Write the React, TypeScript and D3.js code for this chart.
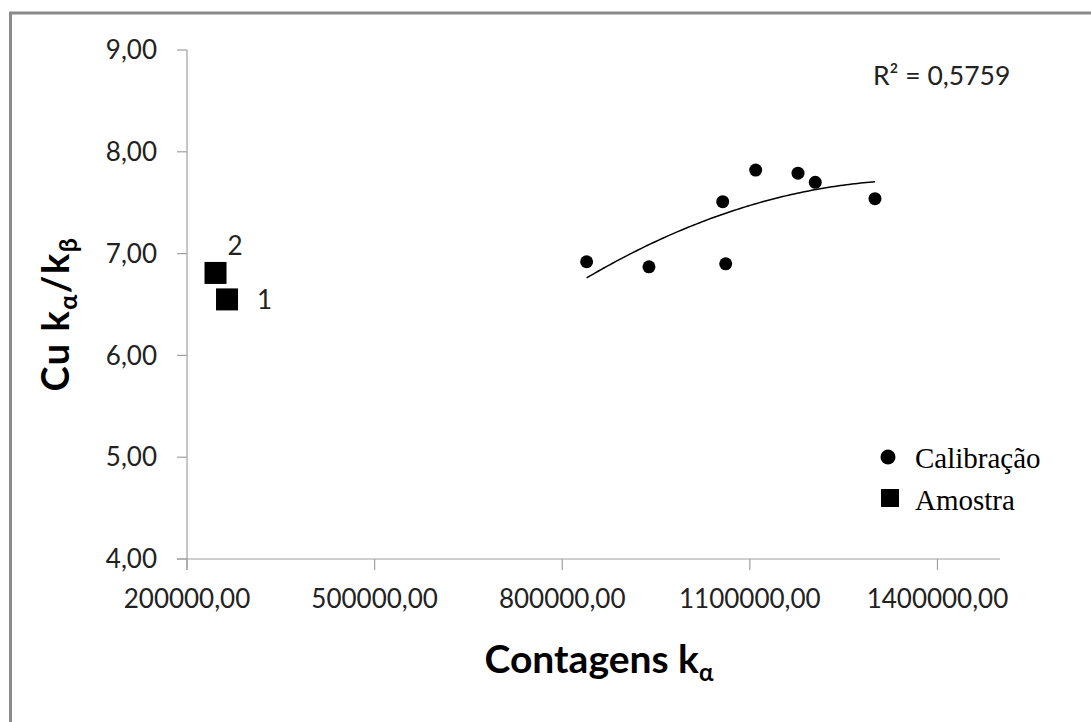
import React, { useMemo } from "react";
import * as d3 from "d3";

const calibX = [839000, 938700, 1061400, 1056600, 1109300, 1177000, 1204600, 1300100];
const calibY = [6.92, 6.87, 6.9, 7.51, 7.82, 7.79, 7.7, 7.54];
const sampleX = [264000, 245600];
const sampleY = [6.55, 6.81];
const sampleLabels = ["1", "2"];
const xTicks = [200000, 500000, 800000, 1100000, 1400000];
const yTicks = [4, 5, 6, 7, 8, 9];
const rSquaredText = "R² = 0,5759";
const legendLabels = ["Calibração", "Amostra"];

const W = 1091;
const H = 722;
const fmt = (v: number) => v.toFixed(2).replace(".", ",");

function quadFit(xs: number[], ys: number[]) {
  const n = xs.length;
  const m = d3.mean(xs) as number;
  const s = 100000;
  const t = xs.map((x) => (x - m) / s);
  let S0 = n, S1 = 0, S2 = 0, S3 = 0, S4 = 0, T0 = 0, T1 = 0, T2 = 0;
  for (let i = 0; i < n; i++) {
    const ti = t[i], yi = ys[i];
    S1 += ti; S2 += ti * ti; S3 += ti ** 3; S4 += ti ** 4;
    T0 += yi; T1 += ti * yi; T2 += ti * ti * yi;
  }
  const M = [
    [S0, S1, S2, T0],
    [S1, S2, S3, T1],
    [S2, S3, S4, T2],
  ];
  for (let i = 0; i < 3; i++) {
    let p = i;
    for (let r = i + 1; r < 3; r++) if (Math.abs(M[r][i]) > Math.abs(M[p][i])) p = r;
    [M[i], M[p]] = [M[p], M[i]];
    for (let r = 0; r < 3; r++) {
      if (r === i) continue;
      const f = M[r][i] / M[i][i];
      for (let c = i; c < 4; c++) M[r][c] -= f * M[i][c];
    }
  }
  const a = M[0][3] / M[0][0], b = M[1][3] / M[1][1], c = M[2][3] / M[2][2];
  return (x: number) => {
    const tt = (x - m) / s;
    return a + b * tt + c * tt * tt;
  };
}

export default function App() {
  const x = d3.scaleLinear().domain([200000, 1500000]).range([187, 1000]);
  const y = d3.scaleLinear().domain([4, 9]).range([559, 50]);

  const trend = useMemo(() => {
    const f = quadFit(calibX, calibY);
    const x0 = d3.min(calibX) as number;
    const x1 = d3.max(calibX) as number;
    const pts = d3.range(0, 101).map((i) => {
      const xv = x0 + ((x1 - x0) * i) / 100;
      return [xv, f(xv)] as [number, number];
    });
    return d3.line<[number, number]>().x((d) => x(d[0])).y((d) => y(d[1]))(pts) || "";
  }, []);

  const axisColor = "#a0a0a0";
  const tickFont = "Lato, 'Open Sans', sans-serif";
  const serif = "'Liberation Serif', 'Times New Roman', serif";
  const sq = 22;

  return (
    <svg
      width={W}
      height={H}
      style={{ position: "absolute", left: 0, top: 0, background: "#fff" }}
    >
      <rect x={0} y={0} width={W} height={H} fill="#fff" />
      {/* frame */}
      <line x1={9} y1={13} x2={W} y2={13} stroke="#8a8a8a" strokeWidth={3} />
      <line x1={10.5} y1={12} x2={10.5} y2={H} stroke="#8a8a8a" strokeWidth={3} />

      {/* axes */}
      <line x1={x(200000)} y1={y(9)} x2={x(200000)} y2={y(4) + 11} stroke={axisColor} strokeWidth={1.2} />
      <line x1={x(200000) - 10} y1={y(4)} x2={x(1500000)} y2={y(4)} stroke={axisColor} strokeWidth={1.2} />
      {yTicks.map((t) => (
        <g key={"y" + t}>
          <line x1={x(200000) - 10} x2={x(200000)} y1={y(t)} y2={y(t)} stroke={axisColor} strokeWidth={1.2} />
          <text x={157} y={y(t)} dy="0.35em" textAnchor="end" fontFamily={tickFont} fontSize={26} fill="#222">
            {fmt(t)}
          </text>
        </g>
      ))}
      {xTicks.map((t) => (
        <g key={"x" + t}>
          <line x1={x(t)} x2={x(t)} y1={y(4)} y2={y(4) + 11} stroke={axisColor} strokeWidth={1.2} />
          <text x={x(t)} y={608} textAnchor="middle" fontFamily={tickFont} fontSize={26} fill="#222">
            {fmt(t)}
          </text>
        </g>
      ))}

      {/* axis titles */}
      <text x={599} y={673} textAnchor="middle" fontFamily={tickFont} fontWeight="bold" fontSize={39} fill="#000">
        Contagens k
        <tspan fontSize={24} dy={8}>α</tspan>
      </text>
      <text
        transform="translate(69,314) rotate(-90)"
        textAnchor="middle"
        fontFamily={tickFont}
        fontWeight="bold"
        fontSize={38}
        letterSpacing={1.5}
        fill="#000"
      >
        Cu k
        <tspan fontSize={25} dy={8}>α</tspan>
        <tspan dy={-8}>/k</tspan>
        <tspan fontSize={25} dy={8}>β</tspan>
      </text>

      {/* trendline */}
      <path d={trend} fill="none" stroke="#000" strokeWidth={1.5} />

      {/* calibration points */}
      {calibX.map((cx, i) => (
        <circle key={"c" + i} cx={x(cx)} cy={y(calibY[i])} r={6.5} fill="#000" />
      ))}

      {/* sample points */}
      {sampleX.map((sx, i) => (
        <rect key={"s" + i} x={x(sx) - sq / 2} y={y(sampleY[i]) - sq / 2} width={sq} height={sq} fill="#000" />
      ))}
      <text x={x(sampleX[0]) + 30} y={y(sampleY[0]) + 10} fontFamily={tickFont} fontSize={26} fill="#222">
        {sampleLabels[0]}
      </text>
      <text x={x(sampleX[1]) + 12} y={y(sampleY[1]) - 18} fontFamily={tickFont} fontSize={26} fill="#222">
        {sampleLabels[1]}
      </text>

      {/* R squared */}
      <text x={873} y={85} fontFamily={tickFont} fontSize={26.5} fill="#222">
        {rSquaredText}
      </text>

      {/* legend */}
      <circle cx={888} cy={457} r={7.5} fill="#000" />
      <text x={915} y={468} fontFamily={serif} fontSize={29} fill="#000">
        {legendLabels[0]}
      </text>
      <rect x={881} y={489} width={18} height={18} fill="#000" />
      <text x={915} y={510} fontFamily={serif} fontSize={29} fill="#000">
        {legendLabels[1]}
      </text>
    </svg>
  );
}
